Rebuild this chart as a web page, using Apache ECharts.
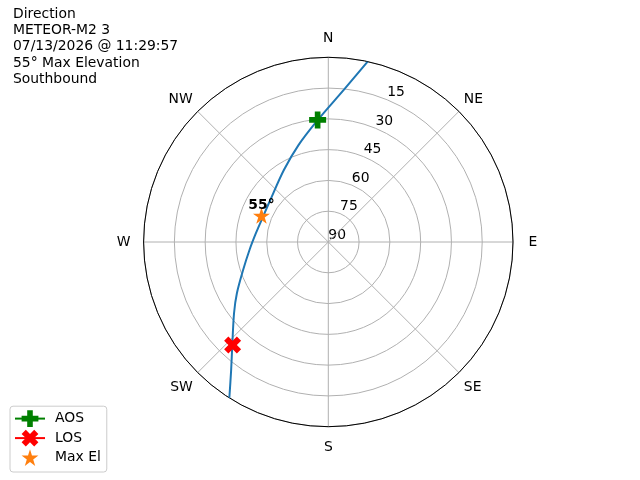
<!DOCTYPE html>
<html>
<head>
<meta charset="utf-8">
<script src="https://cdn.jsdelivr.net/npm/echarts/dist/echarts.min.js"></script>
<style>
  html, body { margin: 0; padding: 0; background: #fff; }
  #main { width: 640px; height: 480px; }
</style>
</head>
<body>
<div id="main"></div>
<script>
// pass track, elevation (deg) and azimuth (deg, from N clockwise)
var trackEl = [0, 15.5, 30.3, 40.6, 48.8, 55.1, 55.9, 54.5, 51.4, 46.3, 39.0, 32.5, 21.4, 11.7, 0];
var trackAz = [12.3, 5.8, 355.1, 342.9, 328.3, 305.9, 292.7, 277.1, 264.2, 251.8, 240.8, 233.0, 223.0, 217.2, 212.4];
var aos = [30.3, 355.0];        // [el, az]
var los = [21.5, 222.9];
var maxEl = [55, 291.5];
var dirs = ['N', 'NE', 'E', 'SE', 'S', 'SW', 'W', 'NW'];
var elTicks = [0, 15, 30, 45, 60, 75, 90];
var infoLines = ['Direction', 'METEOR-M2 3', '07/13/2026 @ 11:29:57', '55° Max Elevation', 'Southbound'];

var font = 'DejaVu Sans';
var plusPath = 'path://M-1,-3L-1,-1L-3,-1L-3,1L-1,1L-1,3L1,3L1,1L3,1L3,-1L1,-1L1,-3Z';
var xPath = 'path://M-1,-2L0,-1L1,-2L2,-1L1,0L2,1L1,2L0,1L-1,2L-2,1L-1,0L-2,-1Z';
var starPath = 'path://M0,-1L0.2245,-0.309L0.951,-0.309L0.363,0.118L0.588,0.809L0,0.382L-0.588,0.809L-0.363,0.118L-0.951,-0.309L-0.2245,-0.309Z';

var track = trackEl.map(function(e, i) { return [e, trackAz[i]]; });

// compass labels: nudge them so they sit on one circle like matplotlib
function lbl(pad) {
    return { fontFamily: font, fontSize: 13.9, color: '#000', padding: pad };
}
var dirKey = { N: 'n', E: 'e', S: 's', W: 'w', SE: 'lo', SW: 'lo' };

var chart = echarts.init(document.getElementById('main'));
var center = [328.3, 242];
var R = 184.7;

var option = {
    animation: false,
    title: {
        text: infoLines.join('\n'),
        left: 8,
        top: 1,
        textStyle: { fontFamily: font, fontSize: 13.9, fontWeight: 'normal', color: '#000', lineHeight: 16.3 }
    },
    legend: {
        orient: 'vertical',
        left: 10,
        bottom: 8,
        data: ['AOS', 'LOS', 'Max El'],
        itemWidth: 30,
        itemHeight: 21,
        itemGap: 2.7,
        padding: [4, 6, 6, 4],
        backgroundColor: 'rgba(255,255,255,0.8)',
        borderColor: '#cccccc',
        borderWidth: 1,
        borderRadius: 3,
        textStyle: { fontFamily: font, fontSize: 13.9, color: '#000', lineHeight: 16, padding: [0, 0, 0, 5] }
    },
    polar: [
        { center: center, radius: R },
        { center: center, radius: R }
    ],
    angleAxis: [
        {
            polarIndex: 0,
            type: 'value', min: 0, max: 360, interval: 45,
            startAngle: 90, clockwise: true,
            axisLine: { lineStyle: { color: '#000', width: 1 } },
            axisTick: { show: false },
            splitLine: { lineStyle: { color: '#b0b0b0', width: 1 } },
            axisLabel: {
                margin: 7, color: '#000', fontFamily: font, fontSize: 13.9,
                formatter: function(v) {
                    if (v >= 360) return '';
                    var d = dirs[v / 45];
                    return '{' + (dirKey[d] || 'd') + '|' + d + '}';
                },
                rich: {
                    n: lbl([0, 0, 5, 0]),
                    s: lbl([7, 0, 0, 0]),
                    e: lbl([0, 0, 0, 8.4]),
                    w: lbl([0, 6, 0, 0]),
                    lo: lbl([3, 0, 0, 0]),
                    d: lbl([0, 0, 0, 0])
                }
            },
            z: 3
        },
        {
            // only used to put the elevation labels at 22.5 deg
            polarIndex: 1,
            type: 'value', min: 0, max: 360,
            startAngle: 67.5, clockwise: true,
            show: false
        }
    ],
    radiusAxis: [
        {
            polarIndex: 0,
            type: 'value', min: 0, max: 90, interval: 15, inverse: true,
            axisLine: { show: false },
            axisTick: { show: false },
            axisLabel: { show: false },
            splitLine: { lineStyle: { color: '#b0b0b0', width: 1 } }
        },
        {
            polarIndex: 1,
            type: 'value', min: 0, max: 90, interval: 15, inverse: true,
            axisLine: { show: false },
            axisTick: { show: false },
            splitLine: { show: false },
            axisLabel: {
                margin: 0, align: 'left', verticalAlign: 'bottom',
                color: '#000', fontFamily: font, fontSize: 13.9,
                showMinLabel: true, showMaxLabel: true,
                formatter: function(v) { return elTicks.indexOf(v) > 0 ? String(v) : ''; }
            }
        }
    ],
    series: [
        {
            name: 'track', type: 'line', coordinateSystem: 'polar', polarIndex: 0,
            data: track, showSymbol: false, symbol: 'none', smooth: 0.3,
            lineStyle: { color: '#1f77b4', width: 2 },
            z: 4
        },
        {
            name: 'AOS', type: 'line', coordinateSystem: 'polar', polarIndex: 0,
            data: [aos], symbol: plusPath, symbolSize: 17, symbolKeepAspect: true,
            itemStyle: { color: '#008000' }, lineStyle: { color: '#008000', width: 2 },
            z: 5
        },
        {
            name: 'LOS', type: 'line', coordinateSystem: 'polar', polarIndex: 0,
            data: [los], symbol: xPath, symbolSize: 17, symbolKeepAspect: true,
            itemStyle: { color: '#ff0000' }, lineStyle: { color: '#ff0000', width: 2 },
            z: 5
        },
        {
            name: 'Max El', type: 'line', coordinateSystem: 'polar', polarIndex: 0,
            data: [maxEl], symbol: starPath, symbolSize: 17, symbolKeepAspect: true,
            itemStyle: { color: '#ff7f0e' }, lineStyle: { width: 0 },
            label: {
                show: true, position: 'top', distance: -5,
                formatter: function(p) { return p.value[0] + '°'; },
                fontFamily: font, fontSize: 13.9, fontWeight: 'bold', color: '#000'
            },
            z: 5
        }
    ]
};
chart.setOption(option);
</script>
</body>
</html>
